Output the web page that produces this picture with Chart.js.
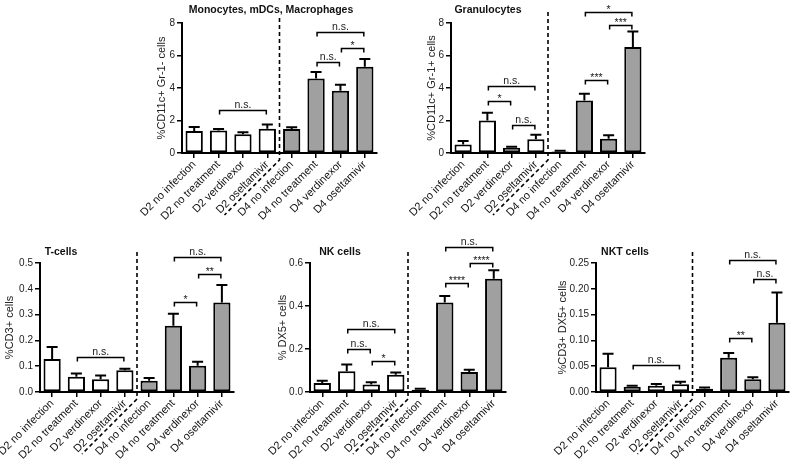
<!DOCTYPE html>
<html><head><meta charset="utf-8">
<script src="https://cdn.jsdelivr.net/npm/chart.js@4.4.1/dist/chart.umd.min.js"></script>
<style>
html,body{margin:0;padding:0;background:#fff;width:793px;height:459px;overflow:hidden;}
canvas{position:absolute;}
</style></head><body>
<canvas id="c1" width="262" height="232" style="left:130px;top:0px"></canvas>
<canvas id="c2" width="262" height="232" style="left:398px;top:0px"></canvas>
<canvas id="c3" width="262" height="227" style="left:0px;top:232px"></canvas>
<canvas id="c4" width="262" height="227" style="left:268px;top:232px"></canvas>
<canvas id="c5" width="263" height="227" style="left:530px;top:232px"></canvas>
<script>
const categories = ['D2 no infection','D2 no treatment','D2 verdinexor','D2 oseltamivir','D4 no infection','D4 no treatment','D4 verdinexor','D4 oseltamivir'];

const monoMean = [1.35, 1.38, 1.15, 1.50, 1.48, 4.59, 3.83, 5.31];
const monoErr  = [0.25, 0.10, 0.13, 0.25, 0.10, 0.39, 0.37, 0.47];
const granMean = [0.53, 2.00, 0.33, 0.84, 0.10, 3.23, 0.88, 6.52];
const granErr  = [0.21, 0.47, 0.06, 0.29, 0.04, 0.41, 0.21, 0.95];
const tMean    = [0.128, 0.059, 0.049, 0.084, 0.044, 0.257, 0.102, 0.347];
const tErr     = [0.046, 0.013, 0.015, 0.006, 0.010, 0.046, 0.015, 0.068];
const nkMean   = [0.042, 0.096, 0.035, 0.080, 0.011, 0.416, 0.093, 0.527];
const nkErr    = [0.010, 0.032, 0.010, 0.011, 0.004, 0.031, 0.010, 0.039];
const nktMean  = [0.048, 0.0103, 0.012, 0.015, 0.0065, 0.0665, 0.0245, 0.134];
const nktErr   = [0.026, 0.0017, 0.0035, 0.005, 0.002, 0.009, 0.004, 0.059];

// significance brackets: [fromIndex, toIndex, yValue, label]
const monoSig = [[1,3,2.65,'n.s.'],[5,7,7.45,'n.s.'],[5,6,5.6,'n.s.'],[6,7,6.46,'*']];
const granSig = [[5,7,8.68,'*'],[6,7,7.88,'***'],[5,6,4.49,'***'],[1,3,4.12,'n.s.'],[1,2,3.22,'*'],[2,3,1.72,'n.s.']];
const tSig    = [[1,3,0.137,'n.s.'],[5,6,0.349,'*'],[6,7,0.456,'**'],[5,7,0.525,'n.s.']];
const nkSig   = [[1,3,0.292,'n.s.'],[1,2,0.2,'n.s.'],[2,3,0.142,'*'],[5,6,0.505,'****'],[6,7,0.6,'****'],[5,7,0.673,'n.s.']];
const nktSig  = [[1,3,0.053,'n.s.'],[5,6,0.105,'**'],[6,7,0.219,'n.s.'],[5,7,0.255,'n.s.']];

const titles  = ['Monocytes, mDCs, Macrophages','Granulocytes','T-cells','NK cells','NKT cells'];
const yTitles = ['%CD11c+ Gr-1- cells','%CD11c+ Gr-1+ cells','%CD3+ cells','% DX5+ cells','%CD3+ DX5+ cells'];

const FONT = "'Liberation Sans', Arial, Helvetica, sans-serif";
const deco = {};

const decoPlugin = {
  id: 'deco',
  afterDatasetsDraw(chart) {
    const d = deco[chart.canvas.id];
    const ctx = chart.ctx, y = chart.scales.y;
    const meta = chart.getDatasetMeta(0);
    ctx.save();
    ctx.strokeStyle = '#000'; ctx.lineWidth = 2;
    d.err.forEach((e, i) => {
      const bar = meta.data[i];
      const xc = bar.x;
      const top = y.getPixelForValue(d.mean[i]);
      const et = y.getPixelForValue(d.mean[i] + e);
      const hw = 5.5;
      ctx.beginPath();
      ctx.moveTo(xc, top); ctx.lineTo(xc, et);
      ctx.moveTo(xc - hw, et); ctx.lineTo(xc + hw, et);
      ctx.stroke();
    });
    ctx.restore();
  },
  afterDraw(chart) {
    const d = deco[chart.canvas.id];
    const ctx = chart.ctx, y = chart.scales.y, ca = chart.chartArea;
    const meta = chart.getDatasetMeta(0);
    ctx.save();
    // dashed separator between D2 and D4 groups
    const xb = (meta.data[3].x + meta.data[4].x) / 2;
    const yd = ca.bottom + 7;
    ctx.strokeStyle = '#000'; ctx.lineWidth = 1.6; ctx.setLineDash([4, 3]);
    ctx.beginPath();
    ctx.moveTo(xb, d.sepTop);
    ctx.lineTo(xb, yd);
    ctx.lineTo(xb - 55, yd + 55);
    ctx.stroke();
    ctx.setLineDash([]);
    // significance brackets
    ctx.lineWidth = 1.5;
    ctx.fillStyle = '#222';
    ctx.font = '10.5px ' + FONT;
    ctx.textAlign = 'center'; ctx.textBaseline = 'alphabetic';
    d.sig.forEach(([a, b, v, lab]) => {
      const xa = meta.data[a].x + 1, xe = meta.data[b].x - 1;
      const yy = Math.round(y.getPixelForValue(v)) + 0.5;
      ctx.beginPath();
      ctx.moveTo(xa, yy + 4); ctx.lineTo(xa, yy); ctx.lineTo(xe, yy); ctx.lineTo(xe, yy + 4);
      ctx.stroke();
      ctx.fillText(lab, (xa + xe) / 2, yy - (lab.startsWith('*') ? 0 : 3));
    });
    // panel title
    ctx.fillStyle = '#111';
    ctx.font = 'bold 10.5px ' + FONT;
    ctx.textBaseline = 'middle';
    ctx.fillText(d.title, d.tx, d.ty);
    // y-axis title
    ctx.font = '11px ' + FONT;
    ctx.fillStyle = '#222';
    ctx.translate(d.yx, (ca.top + ca.bottom) / 2);
    ctx.rotate(-Math.PI / 2);
    ctx.fillText(d.ytitle, 0, 0);
    ctx.restore();
  }
};

function makeChart(id, mean, err, sig, k, cfg) {
  deco[id] = { mean, err, sig, title: titles[k], ytitle: yTitles[k], tx: cfg.tx, ty: cfg.ty, yx: cfg.yx, sepTop: cfg.sepTop };
  const colors = categories.map((_, i) => i < 4 ? '#ffffff' : '#a0a0a0');
  return new Chart(document.getElementById(id), {
    type: 'bar',
    data: {
      labels: categories,
      datasets: [{
        data: mean,
        backgroundColor: colors,
        borderColor: '#000',
        borderWidth: 2,
        borderSkipped: false,
        barPercentage: 0.71,
        categoryPercentage: 1
      }]
    },
    options: {
      responsive: false,
      animation: false,
      events: [],
      layout: { padding: { left: 0, right: cfg.pr, top: cfg.pt, bottom: 0 } },
      plugins: { legend: { display: false }, tooltip: { enabled: false }, title: { display: false } },
      scales: {
        x: {
          type: 'category',
          offset: true,
          grid: { display: true, drawOnChartArea: false, drawTicks: true, tickLength: 5, color: '#000', lineWidth: 1.5, offset: false },
          border: { display: true, color: '#000', width: 2 },
          ticks: { minRotation: 45, maxRotation: 45, autoSkip: false, color: '#111', font: { family: FONT, size: 11 }, padding: 0 },
          afterFit: s => { s.height = cfg.xh; s.paddingLeft = 0; s.paddingRight = 0; }
        },
        y: {
          min: 0, max: cfg.max,
          ticks: { stepSize: cfg.step, color: '#222', font: { family: FONT, size: 10 }, padding: 2,
                   callback: v => cfg.dec === 0 ? String(Math.round(v)) : Number(v).toFixed(cfg.dec) },
          grid: { display: true, drawOnChartArea: false, drawTicks: true, tickLength: 5, color: '#000', lineWidth: 1.5 },
          border: { display: true, color: '#000', width: 2 },
          afterFit: s => { s.width = cfg.yw; s.paddingTop = 0; s.paddingBottom = 0; }
        }
      }
    },
    plugins: [decoPlugin]
  });
}

makeChart('c1', monoMean, monoErr, monoSig, 0, { yw: 52, pr: 15, pt: 23, xh: 79, max: 8, step: 2, dec: 0, tx: 141, ty: 10, yx: 32, sepTop: 18 });
makeChart('c2', granMean, granErr, granSig, 1, { yw: 53, pr: 15, pt: 23, xh: 79, max: 8, step: 2, dec: 0, tx: 90, ty: 10, yx: 34, sepTop: 12 });
makeChart('c3', tMean, tErr, tSig, 2, { yw: 40, pr: 28, pt: 31, xh: 67, max: 0.5, step: 0.1, dec: 1, tx: 61, ty: 20, yx: 10, sepTop: 20 });
makeChart('c4', nkMean, nkErr, nkSig, 3, { yw: 42, pr: 24, pt: 31, xh: 67, max: 0.6, step: 0.2, dec: 1, tx: 72, ty: 20, yx: 15, sepTop: 20 });
makeChart('c5', nktMean, nktErr, nktSig, 4, { yw: 66, pr: 4, pt: 31, xh: 67, max: 0.25, step: 0.05, dec: 2, tx: 95, ty: 20, yx: 33, sepTop: 20 });
</script>
</body></html>
